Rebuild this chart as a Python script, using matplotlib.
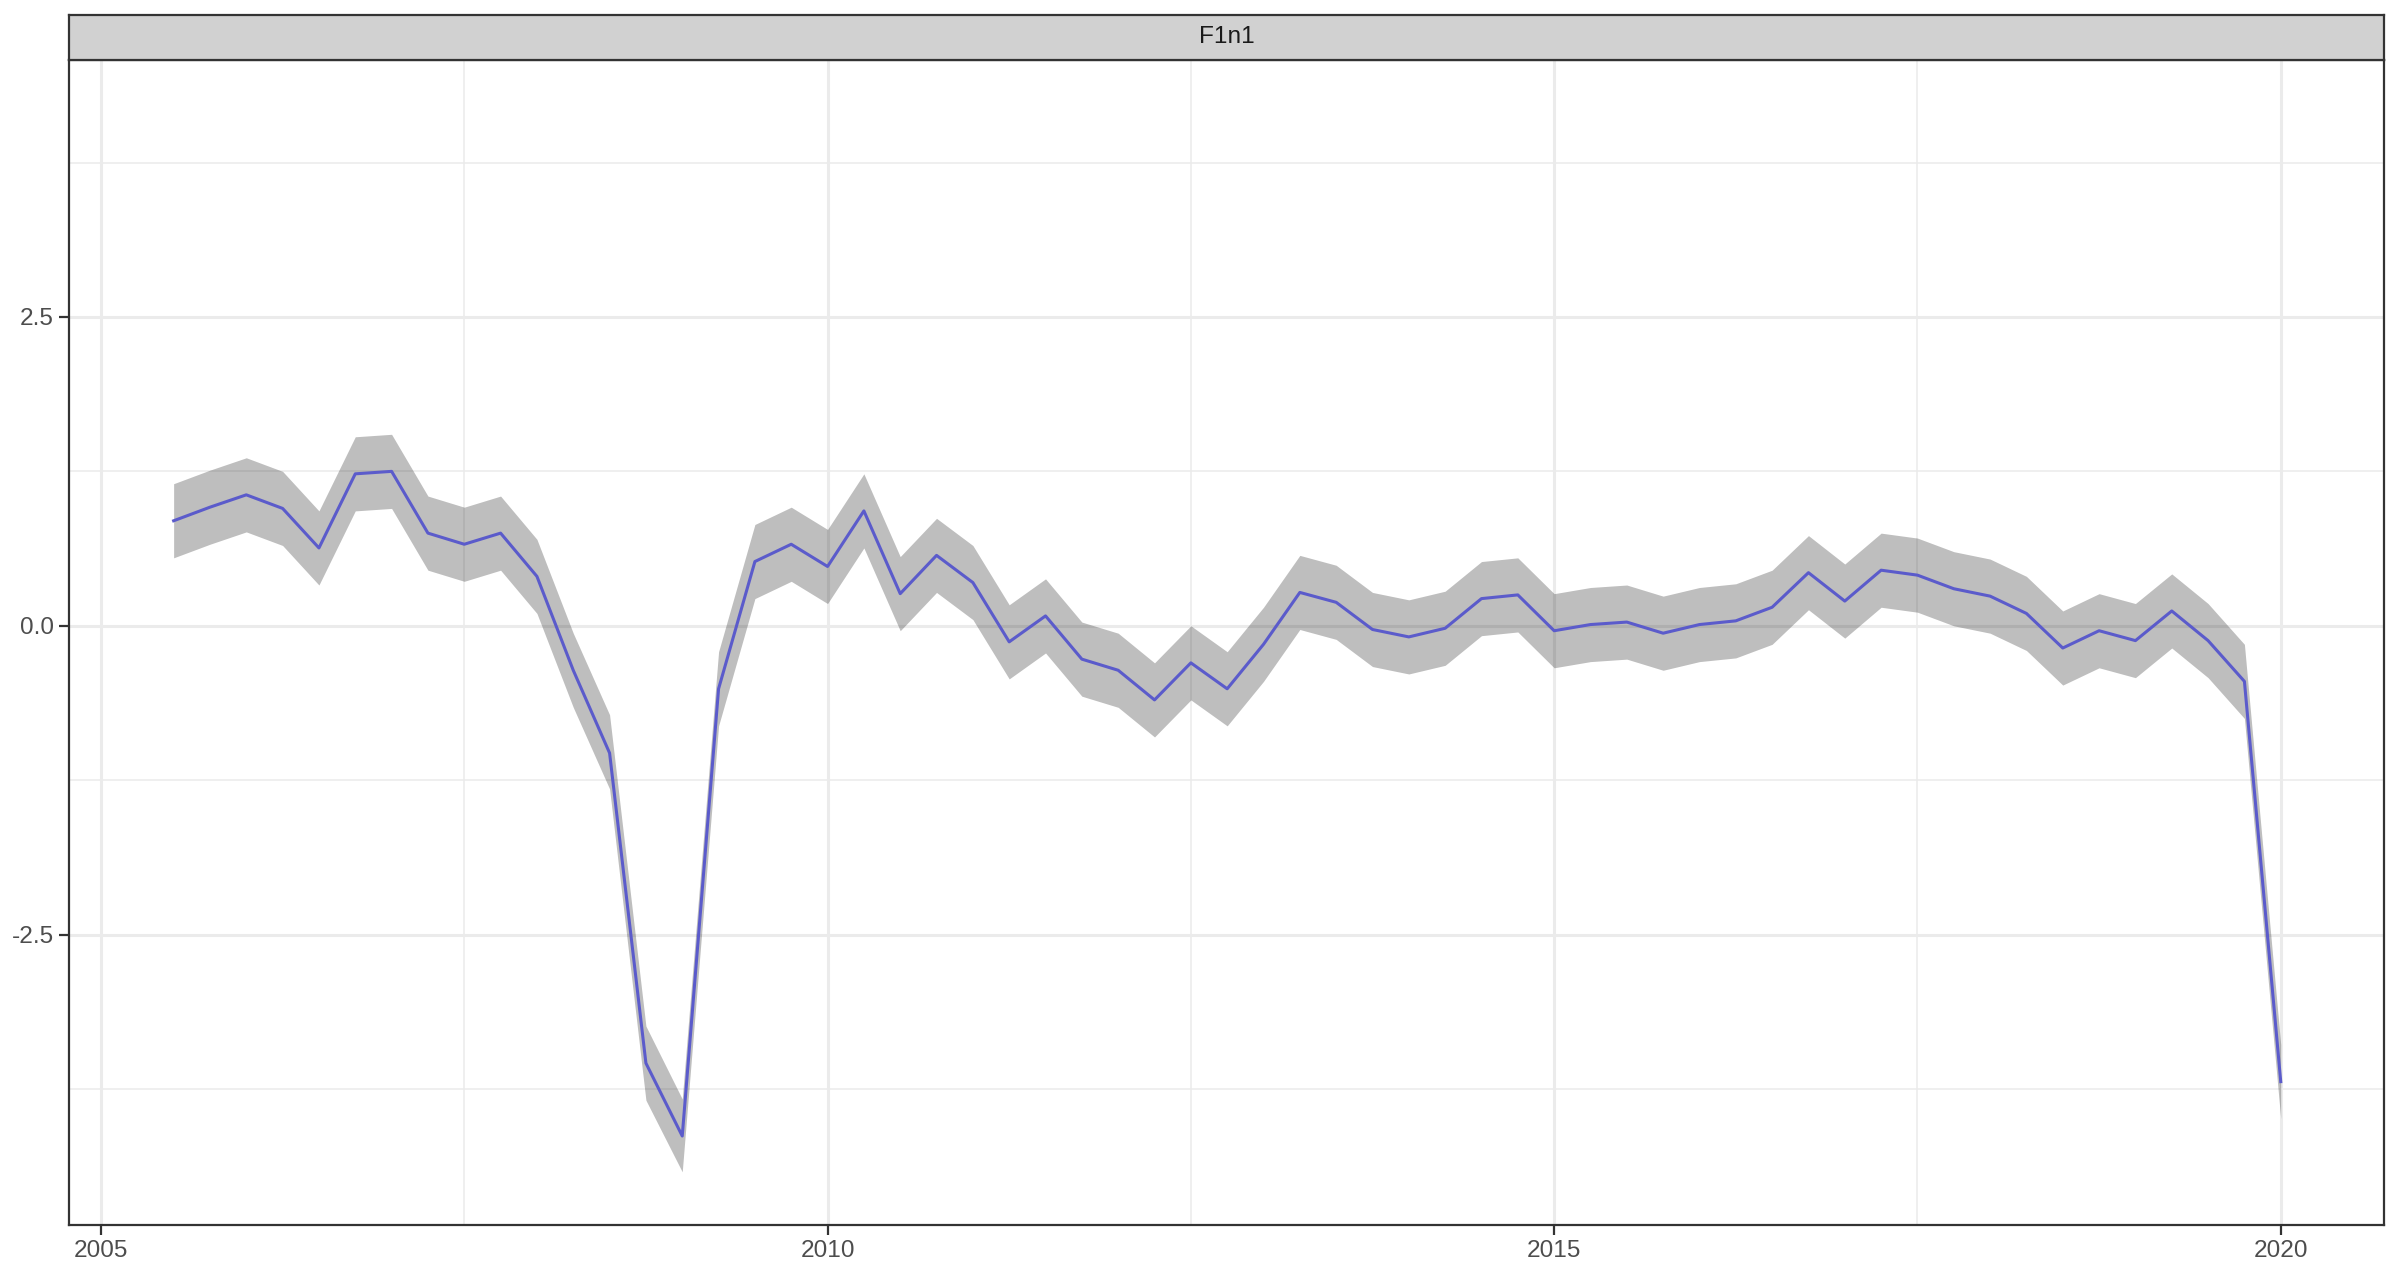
import numpy as np
import matplotlib
matplotlib.use("Agg")
import matplotlib.pyplot as plt
from matplotlib.patches import Rectangle

plt.rcParams['font.family'] = ['Liberation Sans', 'DejaVu Sans']

# quarterly time index, 2005 Q3 .. 2020 Q1
quarters = np.arange(2005.5, 2020.01, 0.25)

# estimate (blue line)
f1n1 = [0.85, 0.96, 1.06, 0.95, 0.63, 1.23, 1.25, 0.75, 0.66, 0.75,
        0.40, -0.36, -1.03, -3.54, -4.13, -0.51, 0.52, 0.66, 0.48, 0.93,
        0.26, 0.57, 0.35, -0.13, 0.08, -0.27, -0.36, -0.60, -0.30, -0.51,
        -0.15, 0.27, 0.19, -0.03, -0.09, -0.02, 0.22, 0.25, -0.04, 0.01,
        0.03, -0.06, 0.01, 0.04, 0.15, 0.43, 0.20, 0.45, 0.41, 0.30,
        0.24, 0.10, -0.18, -0.04, -0.12, 0.12, -0.12, -0.45, -3.69]

# confidence band
f1n1_lo = [0.55, 0.66, 0.76, 0.65, 0.33, 0.93, 0.95, 0.45, 0.36, 0.45,
           0.10, -0.66, -1.32, -3.84, -4.42, -0.81, 0.22, 0.36, 0.18, 0.63,
           -0.04, 0.27, 0.05, -0.43, -0.22, -0.57, -0.66, -0.90, -0.60, -0.81,
           -0.45, -0.03, -0.11, -0.33, -0.39, -0.32, -0.08, -0.05, -0.34, -0.29,
           -0.27, -0.36, -0.29, -0.26, -0.15, 0.13, -0.10, 0.15, 0.11, 0.00,
           -0.06, -0.20, -0.48, -0.34, -0.42, -0.18, -0.42, -0.75, -3.99]
f1n1_hi = [1.15, 1.26, 1.36, 1.25, 0.93, 1.53, 1.55, 1.05, 0.96, 1.05,
           0.70, -0.06, -0.72, -3.24, -3.83, -0.21, 0.82, 0.96, 0.78, 1.23,
           0.56, 0.87, 0.65, 0.17, 0.38, 0.03, -0.06, -0.30, 0.00, -0.21,
           0.15, 0.57, 0.49, 0.27, 0.21, 0.28, 0.52, 0.55, 0.26, 0.31,
           0.33, 0.24, 0.31, 0.34, 0.45, 0.73, 0.50, 0.75, 0.71, 0.60,
           0.54, 0.40, 0.12, 0.26, 0.18, 0.42, 0.18, -0.15, -3.39]

x_major = [2005, 2010, 2015, 2020]
x_minor = [2007.5, 2012.5, 2017.5]
y_major = [-2.5, 0.0, 2.5]
y_minor = [-3.75, -1.25, 1.25, 3.75]

fig = plt.figure(figsize=(12, 6.38), dpi=200)
ax = fig.add_axes([0.02875, 0.0400, 0.96455, 0.9130])

grid_col = '#EBEBEB'
for v in x_minor:
    ax.axvline(v, color=grid_col, lw=0.55, zorder=0)
for v in y_minor:
    ax.axhline(v, color=grid_col, lw=0.55, zorder=0)
for v in x_major:
    ax.axvline(v, color=grid_col, lw=1.1, zorder=0)
for v in y_major:
    ax.axhline(v, color=grid_col, lw=1.1, zorder=0)

ax.fill_between(quarters, f1n1_lo, f1n1_hi, color='black', alpha=0.255,
                linewidth=0, zorder=1)
ax.plot(quarters, f1n1, color='#5B5BCB', lw=1.1, zorder=2)

ax.set_xlim(2004.78, 2020.71)
ax.set_ylim(-4.85, 4.58)
ax.set_xticks(x_major)
ax.set_xticklabels([str(v) for v in x_major])
ax.set_yticks(y_major)
ax.set_yticklabels(['-2.5', '0.0', '2.5'])
ax.tick_params(axis='both', length=3.5, width=0.8, color='#333333',
               labelcolor='#4D4D4D', labelsize=8.8, pad=2)
for s in ax.spines.values():
    s.set_color('#333333')
    s.set_linewidth(0.8)

# facet strip
strip = fig.add_axes([0.02875, 0.953, 0.96455, 0.0353])
strip.add_patch(Rectangle((0, 0), 1, 1, transform=strip.transAxes,
                          facecolor='#D1D1D1', edgecolor='none'))
strip.set_xticks([])
strip.set_yticks([])
for s in strip.spines.values():
    s.set_color('#333333')
    s.set_linewidth(0.8)
strip.text(0.5, 0.5, 'F1n1', ha='center', va='center', fontsize=8.8,
           color='#1A1A1A', transform=strip.transAxes)

fig.savefig('out.png', dpi=200)
